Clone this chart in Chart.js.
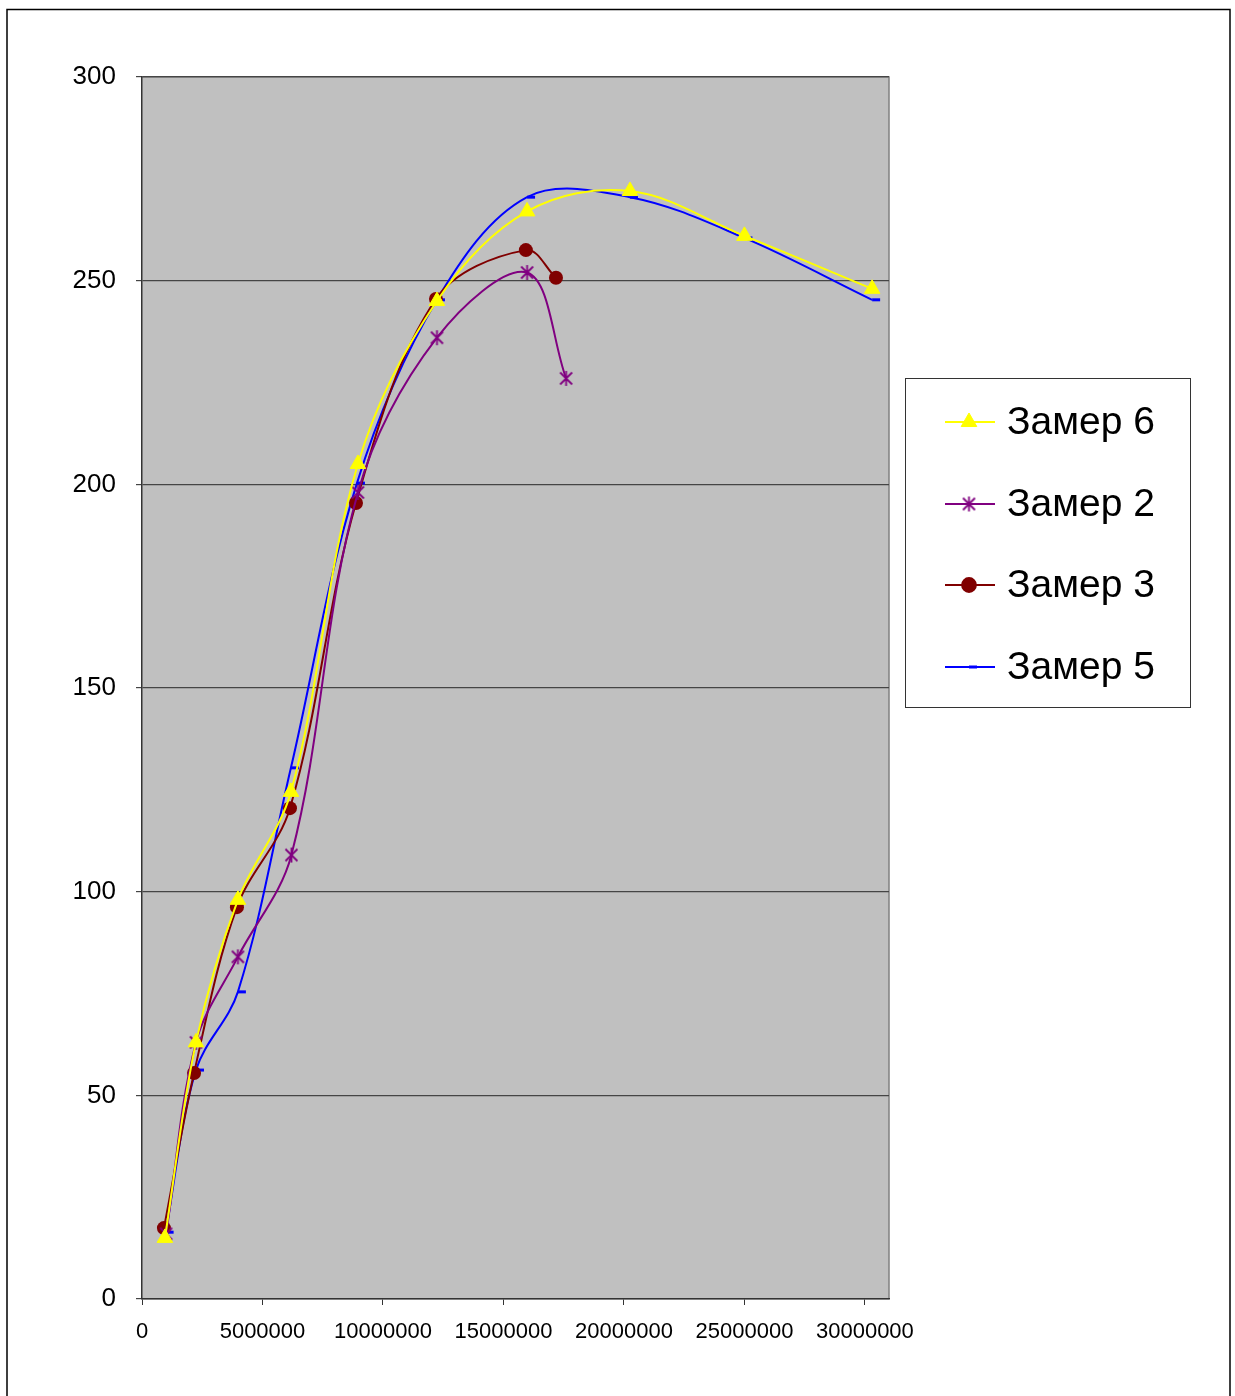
<!DOCTYPE html>
<html>
<head>
<meta charset="utf-8">
<title>Замер</title>
<script src="https://cdn.jsdelivr.net/npm/chart.js@4/dist/chart.umd.min.js"></script>
<style>
  html, body { margin: 0; padding: 0; background: #ffffff; }
  canvas { display: block; }
</style>
</head>
<body>
<canvas id="chart" width="1235" height="1396"></canvas>
<script>
// Series names
const seriesNames = ['Замер 6', 'Замер 2', 'Замер 3', 'Замер 5'];

// Замер 6
const zamer6X = [950000, 2240000, 3980000, 6180000, 8960000, 12240000, 15980000, 20250000, 25000000, 30300000];
const zamer6Y = [15, 63, 98, 124.5, 205, 245, 267, 272, 261, 248];

// Замер 2
const zamer2X = [1000000, 2240000, 3980000, 6200000, 8960000, 12240000, 15980000, 17600000];
const zamer2Y = [16, 63, 84, 109, 198, 236, 252, 226];

// Замер 3
const zamer3X = [910000, 2160000, 3940000, 6140000, 8880000, 12200000, 15930000, 17180000];
const zamer3Y = [17.4, 55.5, 96.2, 120.5, 195.4, 245.5, 257.5, 250.7];

// Замер 5
const zamer5X = [980000, 2240000, 3980000, 6180000, 8920000, 12240000, 15980000, 20250000, 25000000, 30300000];
const zamer5Y = [16.4, 56.2, 75.4, 130.4, 200.3, 245.3, 270.5, 270.5, 260.5, 245.3];

// Axis ranges and tick values
const xMax = 31000000;
const xTicks = [0, 5000000, 10000000, 15000000, 20000000, 25000000, 30000000];
const yMax = 300;
const yTicks = [0, 50, 100, 150, 200, 250, 300];

function toPoints(xs, ys) {
  return xs.map((x, i) => ({ x: x, y: ys[i] }));
}

// Asterisk marker: vertical stroke plus two diagonals
function makeAsterisk(color, size, lw) {
  const c = document.createElement('canvas');
  c.width = size; c.height = size;
  const g = c.getContext('2d');
  g.strokeStyle = color;
  g.lineWidth = lw;
  const m = size / 2, r = size / 2 - 1;
  g.beginPath();
  g.moveTo(m, m - r); g.lineTo(m, m + r);
  g.moveTo(m - r * 0.8, m - r * 0.8); g.lineTo(m + r * 0.8, m + r * 0.8);
  g.moveTo(m - r * 0.8, m + r * 0.8); g.lineTo(m + r * 0.8, m - r * 0.8);
  g.stroke();
  return c;
}
const asterisk = makeAsterisk('#800080', 17, 1.8);

const datasets = [
  {
    label: seriesNames[0],
    data: toPoints(zamer6X, zamer6Y),
    borderColor: '#FFFF00',
    backgroundColor: '#FFFF00',
    borderWidth: 2,
    pointStyle: 'triangle',
    pointRadius: 9,
    pointBorderWidth: 1,
    tension: 0.35
  },
  {
    label: seriesNames[1],
    data: toPoints(zamer2X, zamer2Y),
    borderColor: '#800080',
    backgroundColor: '#800080',
    borderWidth: 2,
    pointStyle: asterisk,
    pointRadius: 8,
    tension: 0.35
  },
  {
    label: seriesNames[2],
    data: toPoints(zamer3X, zamer3Y),
    borderColor: '#800000',
    backgroundColor: '#800000',
    borderWidth: 2,
    pointStyle: 'circle',
    pointRadius: 7,
    pointBorderWidth: 0,
    tension: 0.35
  },
  {
    label: seriesNames[3],
    data: toPoints(zamer5X, zamer5Y),
    borderColor: '#0000FF',
    backgroundColor: '#0000FF',
    borderWidth: 2,
    pointStyle: 'dash',
    pointRadius: 8,
    pointBorderWidth: 3,
    tension: 0.35
  }
];

// Page frame and grey plot background
const backdrop = {
  id: 'backdrop',
  beforeDraw(chart) {
    const ctx = chart.ctx;
    const a = chart.chartArea;
    ctx.save();
    ctx.fillStyle = '#ffffff';
    ctx.fillRect(0, 0, chart.width, chart.height);
    ctx.strokeStyle = '#000000';
    ctx.lineWidth = 1.5;
    ctx.strokeRect(7, 9.5, 1223, 1400);
    ctx.fillStyle = '#C0C0C0';
    ctx.fillRect(a.left, a.top, a.right - a.left, a.bottom - a.top);
    ctx.strokeStyle = '#808080';
    ctx.lineWidth = 1.5;
    ctx.beginPath();
    ctx.moveTo(a.left, a.top);
    ctx.lineTo(a.right, a.top);
    ctx.lineTo(a.right, a.bottom);
    ctx.stroke();
    ctx.restore();
  }
};

// Legend box with line-and-marker samples
const boxLegend = {
  id: 'boxLegend',
  afterDraw(chart) {
    const ctx = chart.ctx;
    const left = 905.5, top = 378.5, w = 285, h = 329;
    ctx.save();
    ctx.fillStyle = '#ffffff';
    ctx.fillRect(left, top, w, h);
    ctx.strokeStyle = '#333333';
    ctx.lineWidth = 1;
    ctx.strokeRect(left, top, w, h);
    const rows = [422, 504, 585, 667];
    chart.data.datasets.forEach((ds, i) => {
      const y = rows[i];
      ctx.strokeStyle = ds.borderColor;
      ctx.lineWidth = 1.8;
      ctx.beginPath();
      ctx.moveTo(945, y);
      ctx.lineTo(995, y);
      ctx.stroke();
      ctx.fillStyle = ds.backgroundColor;
      ctx.strokeStyle = ds.borderColor;
      ctx.lineWidth = ds.pointBorderWidth !== undefined ? ds.pointBorderWidth : 1;
      Chart.helpers.drawPoint(ctx, {
        pointStyle: ds.pointStyle,
        radius: ds.pointRadius,
        rotation: 0,
        borderWidth: ctx.lineWidth
      }, 969, y);
      ctx.fillStyle = '#000000';
      ctx.font = '39px "Liberation Sans", Arial, sans-serif';
      ctx.textBaseline = 'middle';
      ctx.textAlign = 'left';
      ctx.fillText(ds.label, 1007, y + 1);
    });
    ctx.restore();
  }
};

new Chart(document.getElementById('chart'), {
  type: 'line',
  data: { datasets: datasets },
  plugins: [backdrop, boxLegend],
  options: {
    responsive: false,
    animation: false,
    devicePixelRatio: 1,
    layout: { padding: { left: 0, right: 346, top: 77, bottom: 0 } },
    plugins: {
      legend: { display: false },
      tooltip: { enabled: false }
    },
    scales: {
      x: {
        type: 'linear',
        min: 0,
        max: xMax,
        afterFit(scale) { scale.height = 97; },
        afterBuildTicks(scale) { scale.ticks = xTicks.map(v => ({ value: v })); },
        ticks: {
          maxRotation: 0,
          minRotation: 0,
          autoSkip: false,
          padding: 14,
          color: '#000000',
          font: { family: '"Liberation Sans", Arial, sans-serif', size: 22 },
          callback: (v) => String(v)
        },
        grid: {
          drawOnChartArea: false,
          drawTicks: true,
          tickLength: 6,
          color: '#333333',
          lineWidth: 1
        },
        border: { color: '#333333', width: 1.5 }
      },
      y: {
        type: 'linear',
        min: 0,
        max: yMax,
        afterFit(scale) { scale.width = 142; },
        afterBuildTicks(scale) { scale.ticks = yTicks.map(v => ({ value: v })); },
        ticks: {
          padding: 20,
          color: '#000000',
          font: { family: '"Liberation Sans", Arial, sans-serif', size: 26 },
          callback: (v) => String(v)
        },
        grid: {
          drawOnChartArea: true,
          drawTicks: true,
          tickLength: 6,
          color: '#454545',
          lineWidth: 1.2
        },
        border: { color: '#333333', width: 1.5 }
      }
    }
  }
});
</script>
</body>
</html>
